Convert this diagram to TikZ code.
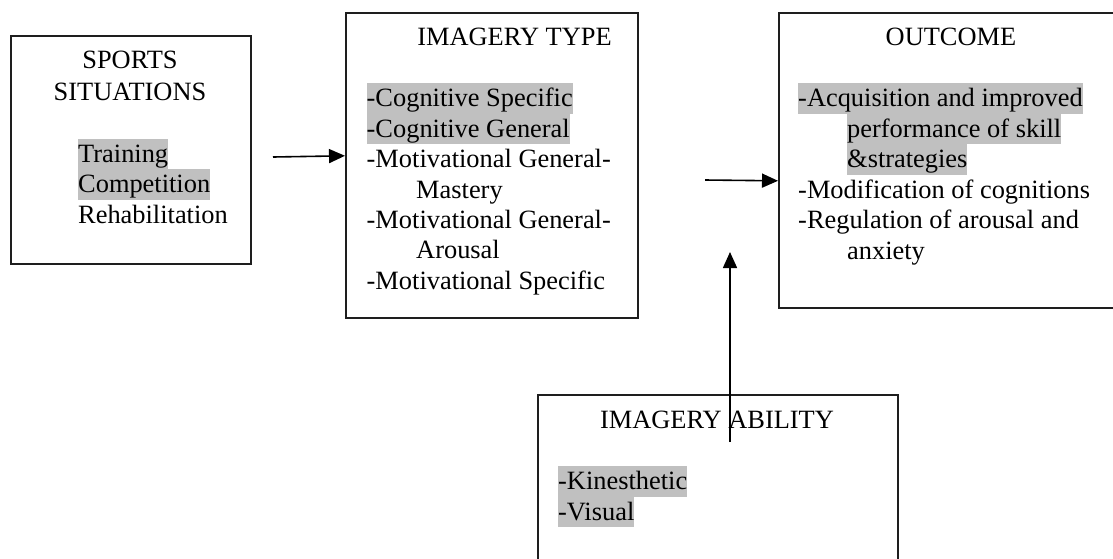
\documentclass[tikz,border=0pt]{standalone}
\usepackage{fontspec}
\setmainfont{Liberation Serif}
\usetikzlibrary{arrows.meta}
\definecolor{hl}{RGB}{192,192,192}
\definecolor{ln}{RGB}{30,30,30}
\tikzset{
  boxnode/.style={draw=ln, line width=1.6pt, anchor=north west, inner sep=0pt},
  txt/.style={anchor=base west, inner sep=0pt, text height=23.5pt, text depth=7pt,
    font=\fontsize{26.4}{30.4}\selectfont},
  hltxt/.style={txt, fill=hl},
  ttl/.style={anchor=base, inner sep=0pt, font=\fontsize{26.4}{30.4}\selectfont},
  arr/.style={line width=1.6pt, -{Triangle[length=16pt,width=14pt]}}
}
\begin{document}
\begin{tikzpicture}[x=1pt,y=-1pt]
\useasboundingbox (0,0) rectangle (1113,558);
\clip (0,0) rectangle (1113,558);
% boxes
\node[boxnode, minimum width=240pt, minimum height=228pt] (box1) at (10,35) {};
\node[boxnode, minimum width=292pt, minimum height=305pt] (box2) at (345,12) {};
\node[boxnode, minimum width=360pt, minimum height=295pt] (box3) at (778,12) {};
\node[boxnode, minimum width=360pt, minimum height=200pt] (box4) at (537,394) {};
% box 1 text
\node[ttl] (t1a) at (130,68) {SPORTS};
\node[ttl] (t1b) at (130,100) {SITUATIONS};
\node[hltxt] (s1) at (78,162) {Training};
\node[hltxt] (s2) at (78,192.5) {Competition};
\node[txt] (s3) at (78,223) {Rehabilitation};
% box 2 text
\node[ttl] (t2) at (514.5,45) {IMAGERY TYPE};
\node[hltxt] (i1) at (366.5,106.5) {-Cognitive Specific};
\node[hltxt] (i2) at (366.5,137) {-Cognitive General};
\node[txt] (i3) at (366.5,167.5) {-Motivational General-};
\node[txt] (i4) at (416,198) {Mastery};
\node[txt] (i5) at (366.5,228) {-Motivational General-};
\node[txt] (i6) at (416,258.5) {Arousal};
\node[txt] (i7) at (366.5,289) {-Motivational Specific};
% box 3 text
\node[ttl] (t3) at (951,45) {OUTCOME};
\node[hltxt] (o1) at (798,106.5) {-Acquisition and improved};
\node[hltxt] (o2) at (847,137) {performance of skill};
\node[hltxt] (o3) at (847,167.5) {\&strategies};
\node[txt] (o4) at (798,198) {-Modification of cognitions};
\node[txt] (o5) at (798,228.5) {-Regulation of arousal and};
\node[txt] (o6) at (847,259) {anxiety};
% box 4 text
\node[ttl] (t4) at (717,428) {IMAGERY ABILITY};
\node[hltxt] (k1) at (558,489.5) {-Kinesthetic};
\node[hltxt] (k2) at (558,520) {-Visual};
% connectors
\coordinate (a1) at (273,157);
\coordinate (a2) at (705,180);
\coordinate (a3s) at (730,442);
\coordinate (a3e) at (730,252);
\draw[arr] (a1) -- ([yshift=9.5pt]box2.west);
\draw[arr] (a2) -- ([yshift=-20.5pt]box3.west);
\draw[arr] (a3s) -- (a3e);
\end{tikzpicture}
\end{document}
